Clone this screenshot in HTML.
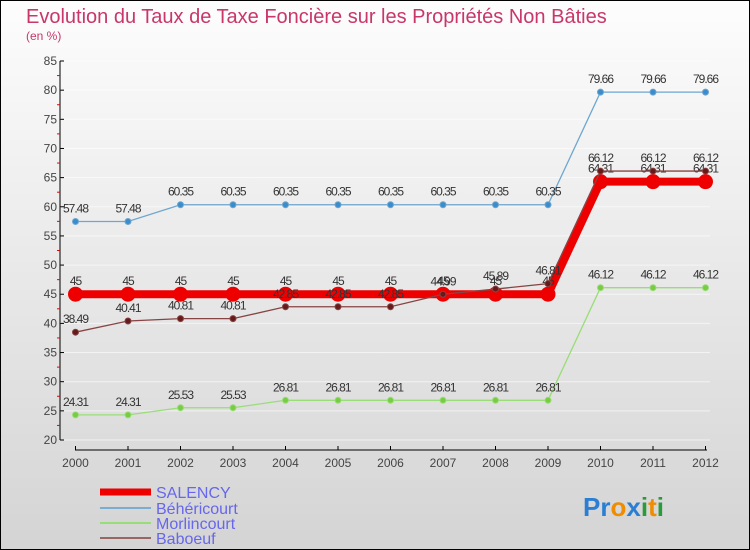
<!DOCTYPE html>
<html><head><meta charset="utf-8"><style>
body{margin:0;}
#c{width:750px;height:550px;position:relative;overflow:hidden;}
svg text{font-family:"Liberation Sans",sans-serif;}
</style></head><body>
<div id="c">
<svg id="s" width="750" height="550" xmlns="http://www.w3.org/2000/svg">
<defs><linearGradient id="bg" x1="0" y1="0" x2="0" y2="1"><stop offset="0" stop-color="#fdfdfd"/><stop offset="1" stop-color="#d4d4d4"/></linearGradient></defs>
<rect x="0.5" y="0.5" width="749" height="549" fill="url(#bg)" stroke="#000"/>
<text x="26" y="23" font-size="20" fill="#c8366a">Evolution du Taux de Taxe Foncière sur les Propriétés Non Bâties</text>
<text x="26" y="40" font-size="12" fill="#c8366a">(en %)</text>
<g id="axes"></g><g id="series"></g>
<g>
<line x1="100" y1="492" x2="151" y2="492" stroke="#e00" stroke-width="7"/>
<text x="156" y="498" font-size="16" fill="#6666ee">SALENCY</text>
<line x1="100" y1="508" x2="151" y2="508" stroke="#7aaed0" stroke-width="2"/>
<text x="156" y="514" font-size="16" fill="#6666ee">Béhéricourt</text>
<line x1="100" y1="523" x2="151" y2="523" stroke="#99dd77" stroke-width="2"/>
<text x="156" y="529" font-size="16" fill="#6666ee">Morlincourt</text>
<line x1="100" y1="538" x2="151" y2="538" stroke="#996666" stroke-width="2"/>
<text x="156" y="544" font-size="16" fill="#6666ee">Baboeuf</text>
</g>
<g font-size="26" font-weight="bold">
<text x="583" y="516"><tspan fill="#2a7fd4">Pr</tspan><tspan fill="#f08c00">o</tspan><tspan fill="#2a7fd4">x</tspan><tspan fill="#2a9a3a">i</tspan><tspan fill="#f08c00">t</tspan><tspan fill="#2a9a3a">i</tspan></text>
</g>
</svg></div>
<script>
const years=["2000","2001","2002","2003","2004","2005","2006","2007","2008","2009","2010","2011","2012"];
const yTicks=[20,25,30,35,40,45,50,55,60,65,70,75,80,85];
const salency=[45,45,45,45,45,45,45,45,45,45,64.31,64.31,64.31];
const behericourt=[57.48,57.48,60.35,60.35,60.35,60.35,60.35,60.35,60.35,60.35,79.66,79.66,79.66];
const morlincourt=[24.31,24.31,25.53,25.53,26.81,26.81,26.81,26.81,26.81,26.81,46.12,46.12,46.12];
const baboeuf=[38.49,40.41,40.81,40.81,42.85,42.85,42.85,44.99,45.89,46.81,66.12,66.12,66.12];
const NS="http://www.w3.org/2000/svg";
function X(i){return 75.5+i*52.5;}
function Y(v){return 440-(v-20)*(379/65);}
function mk(t,a,p){const e=document.createElementNS(NS,t);for(const k in a)e.setAttribute(k,a[k]);p.appendChild(e);return e;}
const ax=document.getElementById('axes');
mk('line',{x1:60,y1:61,x2:60,y2:440,stroke:'#000'},ax);
mk('line',{x1:75,y1:450,x2:707,y2:450,stroke:'#000'},ax);
yTicks.forEach(v=>{
 mk('line',{x1:60,y1:Y(v),x2:750-40,y2:Y(v),stroke:'#ffffff','stroke-width':1,opacity:0.6},ax);
 mk('line',{x1:60,y1:Y(v),x2:64,y2:Y(v),stroke:'#000'},ax);
 if(v<85)mk('line',{x1:57,y1:Y(v+2.5),x2:60,y2:Y(v+2.5),stroke:'#e00'},ax);
 const t=mk('text',{x:57,y:Y(v)+4,'font-size':12,fill:'#444','text-anchor':'end'},ax);t.textContent=v;
 
 
});
years.forEach((y,i)=>{
 mk('line',{x1:X(i),y1:446,x2:X(i),y2:450,stroke:'#000'},ax);
 const t=mk('text',{x:X(i),y:467,'font-size':12,fill:'#444','text-anchor':'middle'},ax);t.textContent=y;
 
 
});
const sg=document.getElementById('series');
function series(name,data,color,w,r,fill){
 const g=mk('g',{},sg);
 
 
 mk('polyline',{points:data.map((v,i)=>X(i)+','+Y(v)).join(' '),fill:'none',stroke:color,'stroke-width':w},g);
 data.forEach((v,i)=>{
  const c=mk('circle',{cx:X(i),cy:Y(v),r:r,fill:fill,stroke:color},g);
  
  
  const t=mk('text',{x:X(i),y:Y(v)-9,'font-size':12,fill:'#333','text-anchor':'middle','letter-spacing':'-1'},g);
  t.textContent=String(v);
  
  
 });
}
series('behericourt',behericourt,'#6ea6cf',1.3,3,'#3a8ccc');
series('morlincourt',morlincourt,'#99dd77',1.3,3,'#77cc44');
series('salency',salency,'#ee0000',8,7,'#ee0000');
series('baboeuf',baboeuf,'#884444',1.3,3,'#661a1a');
</script>
</body></html>
